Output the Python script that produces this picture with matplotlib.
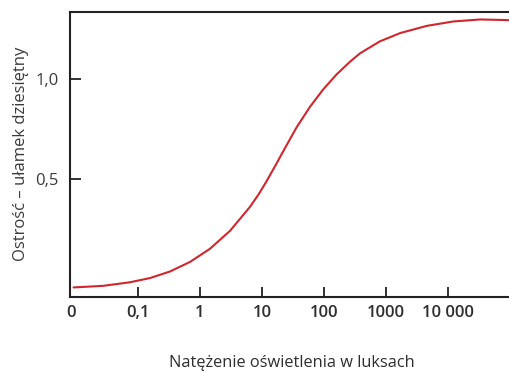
import matplotlib
matplotlib.use("Agg")
import matplotlib.pyplot as plt

plt.rcParams['font.family'] = ['Open Sans', 'DejaVu Sans']

# x positions are in decades: position = log10(lux) + 2, "0" sits at the axis corner
tick_pos = [-0.08, 1, 2, 3, 4, 5, 6]
tick_labels = ['0', '0,1', '1', '10', '100', '1000', '10 000']

curve_pos = [-0.04, 0.44, 0.871, 1.194, 1.516, 1.839, 2.161, 2.484, 2.806, 2.95,
             3.076, 3.237, 3.344, 3.56, 3.774, 3.989, 4.205, 4.419, 4.58, 4.90,
             5.23, 5.66, 6.085, 6.52, 6.95, 6.99]
curve_val = [-0.044, -0.036, -0.018, 0.003, 0.036, 0.084, 0.15, 0.24, 0.36, 0.425,
             0.49, 0.579, 0.64, 0.76, 0.862, 0.95, 1.025, 1.088, 1.13, 1.19,
             1.232, 1.268, 1.29, 1.30, 1.297, 1.296]

y_ticks = [0.5, 1.0]
y_labels = ['0,5', '1,0']

fig = plt.figure(figsize=(5.09, 3.72), dpi=100)
ax = fig.add_axes([70 / 509, 1 - 297 / 372, 1 - 70 / 509 + 0.01, (297 - 11.5) / 372])

ax.plot(curve_pos, curve_val, color='#d0262d', lw=1.5, solid_capstyle='round',
        solid_joinstyle='round')

ax.set_xlim(-0.097, 6.984 + 0.01 * 509 / 62)
ax.set_ylim(-0.092, 1.340)

for s in ax.spines.values():
    s.set_color('#222222')
    s.set_linewidth(1.5)
ax.spines['right'].set_visible(False)

ax.set_xticks(tick_pos)
ax.set_xticklabels(tick_labels, fontsize=12, fontweight='semibold', color='#2e2e2e')
ax.tick_params(axis='x', direction='in', length=7, width=1.3, color='#222222', pad=6)
ax.xaxis.get_major_ticks()[0].tick1line.set_visible(False)

ax.set_yticks(y_ticks)
ax.set_yticklabels(y_labels, fontsize=12, color='#3a3a3a')
ax.tick_params(axis='y', direction='in', length=8, width=1.3, color='#222222', pad=8)

ax.set_xlabel('Natężenie oświetlenia w luksach', fontsize=11.75, color='#2e2e2e', labelpad=24)
ax.set_ylabel('Ostrość – ułamek dziesiętny', fontsize=12, color='#3a3a3a', labelpad=5)

fig.savefig('out.png', dpi=100)
